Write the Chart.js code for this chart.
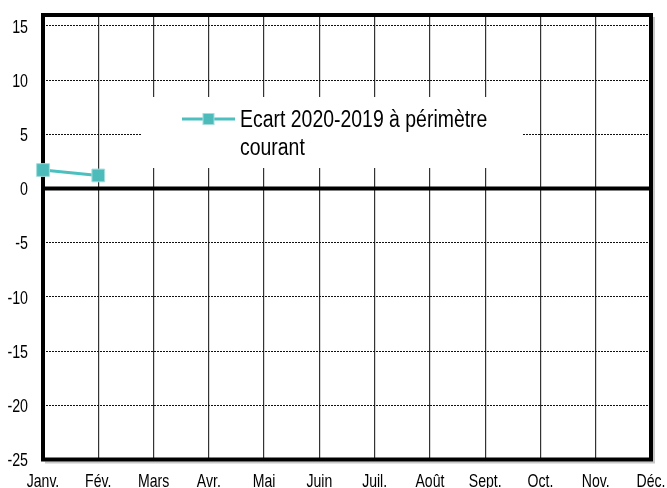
<!DOCTYPE html>
<html>
<head>
<meta charset="utf-8">
<script src="https://cdn.jsdelivr.net/npm/chart.js@4"></script>
<style>
  html, body { margin: 0; padding: 0; background: #fff; }
  #wrap { width: 667px; height: 488px; }
</style>
</head>
<body>
<div id="wrap"><canvas id="chart" width="667" height="488"></canvas></div>
<script>
const months = ["Janv.", "Fév.", "Mars", "Avr.", "Mai", "Juin", "Juil.", "Août", "Sept.", "Oct.", "Nov.", "Déc."];
const ecart = [1.7, 1.2];
const yTicks = [-25, -20, -15, -10, -5, 0, 5, 10, 15];
const legendLines = ["Ecart 2020-2019 à périmètre", "courant"];

const teal = "#4cbfbf";
const font = '"Liberation Sans", Arial, sans-serif';

// draws a text squeezed horizontally, like the original export
function narrowText(ctx, txt, x, y, size, sx, align) {
  ctx.save();
  ctx.translate(x, y);
  ctx.scale(sx, 1);
  ctx.font = size + "px " + font;
  ctx.textAlign = align;
  ctx.textBaseline = "alphabetic";
  ctx.fillStyle = "#000";
  ctx.fillText(txt, 0, 0);
  ctx.restore();
}

const framePlugin = {
  id: "frame",
  beforeDatasetsDraw(chart) {
    const ctx = chart.ctx;
    const a = chart.chartArea;
    const yScale = chart.scales.y;

    // legend box sits inside the plot and hides the grid
    ctx.save();
    ctx.fillStyle = "#fff";
    ctx.fillRect(141, 97, 382, 71);
    ctx.strokeStyle = teal;
    ctx.lineWidth = 3;
    ctx.beginPath();
    ctx.moveTo(182, 119);
    ctx.lineTo(235, 119);
    ctx.stroke();
    ctx.fillStyle = "#4dbbba";
    ctx.strokeStyle = "#a4dddd";
    ctx.lineWidth = 1;
    ctx.fillRect(203, 113.5, 11, 11);
    ctx.strokeRect(203, 113.5, 11, 11);
    ctx.restore();
    narrowText(ctx, legendLines[0], 240, 127, 23, 0.845, "left");
    narrowText(ctx, legendLines[1], 240, 155, 23, 0.845, "left");

    // zero line
    const y0 = yScale.getPixelForValue(0);
    ctx.save();
    ctx.strokeStyle = "#000";
    ctx.lineWidth = 4;
    ctx.beginPath();
    ctx.moveTo(a.left, y0);
    ctx.lineTo(a.right, y0);
    ctx.stroke();

    // light shadow then thick frame
    ctx.strokeStyle = "#c8c8c8";
    ctx.lineWidth = 2;
    ctx.beginPath();
    ctx.moveTo(a.right + 3, a.top + 2);
    ctx.lineTo(a.right + 3, a.bottom + 3);
    ctx.lineTo(a.left + 2, a.bottom + 3);
    ctx.stroke();
    ctx.strokeStyle = "#000";
    ctx.lineWidth = 4;
    ctx.strokeRect(a.left, a.top, a.right - a.left, a.bottom - a.top);
    ctx.restore();
  },
  afterDraw(chart) {
    const ctx = chart.ctx;
    const xScale = chart.scales.x;
    const yScale = chart.scales.y;
    yScale.ticks.forEach((t) => {
      const y = yScale.getPixelForValue(t.value);
      narrowText(ctx, String(t.value), 28, y + 6.8, 19, 0.75, "right");
    });
    xScale.getLabels().forEach((lab, i) => {
      const x = xScale.getPixelForTick(i);
      narrowText(ctx, lab, x, 487, 19, 0.74, "center");
    });
  }
};

new Chart(document.getElementById("chart"), {
  type: "line",
  data: {
    labels: months,
    datasets: [{
      label: legendLines.join(" "),
      data: ecart,
      borderColor: teal,
      backgroundColor: "#4dbbba",
      pointBorderColor: "#a4dddd",
      pointBorderWidth: 1,
      pointStyle: "rect",
      pointRadius: 9,
      borderWidth: 3,
      tension: 0,
      clip: false
    }]
  },
  options: {
    responsive: false,
    animation: false,
    layout: { padding: { left: 43, right: 16, top: 15, bottom: 28.5 } },
    plugins: {
      legend: { display: false },
      tooltip: { enabled: false }
    },
    scales: {
      x: {
        offset: false,
        grid: { color: "#333", lineWidth: 1.2, drawTicks: false },
        border: { display: false },
        ticks: { display: false }
      },
      y: {
        min: -25,
        max: 16,
        afterBuildTicks: (scale) => {
          scale.ticks = yTicks.map((v) => ({ value: v }));
        },
        grid: { color: "#111", lineWidth: 1, drawTicks: false },
        border: { display: false, dash: [2, 1] },
        ticks: { display: false }
      }
    }
  },
  plugins: [framePlugin]
});
</script>
</body>
</html>
